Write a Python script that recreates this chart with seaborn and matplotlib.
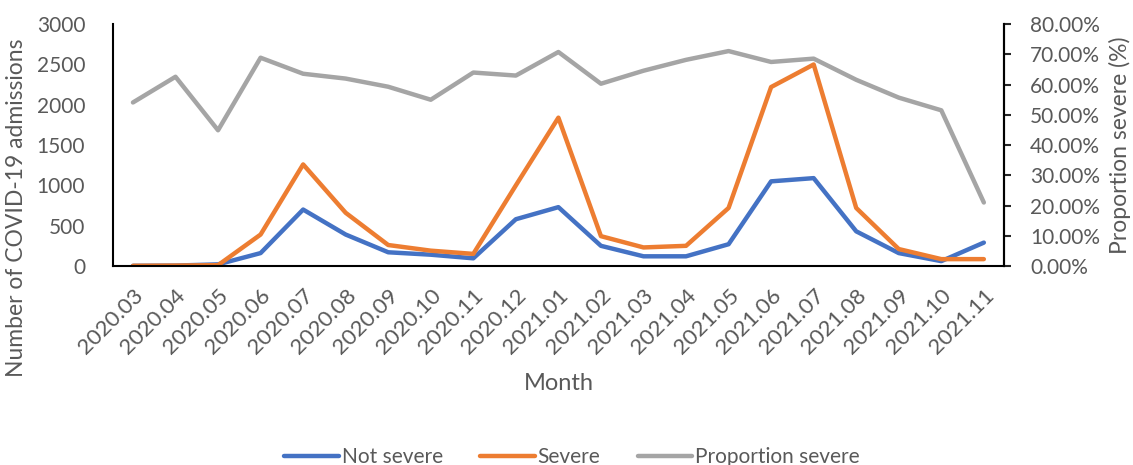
import pandas as pd
import matplotlib.pyplot as plt
import seaborn as sns
from matplotlib.ticker import PercentFormatter

months = ['2020.03', '2020.04', '2020.05', '2020.06', '2020.07', '2020.08', '2020.09',
          '2020.10', '2020.11', '2020.12', '2021.01', '2021.02', '2021.03', '2021.04',
          '2021.05', '2021.06', '2021.07', '2021.08', '2021.09', '2021.10', '2021.11']
not_severe = [2, 5, 20, 160, 700, 390, 170, 140, 95, 580, 730, 250, 120, 120,
              270, 1050, 1090, 430, 160, 60, 290]
severe = [2, 5, 10, 390, 1260, 660, 260, 190, 150, 1000, 1840, 370, 230, 250,
          720, 2220, 2500, 720, 210, 85, 85]
prop_severe = [54.1, 62.6, 44.9, 68.9, 63.6, 62.0, 59.3, 55.0, 64.0, 63.0, 70.8,
               60.3, 64.6, 68.2, 71.1, 67.5, 68.6, 61.6, 55.7, 51.5, 21.0]

df = pd.DataFrame({'Month': months, 'Not severe': not_severe, 'Severe': severe,
                   'Proportion severe': prop_severe})

sns.set_style('white')
plt.rcParams['font.family'] = ['Lato', 'DejaVu Sans']
txt = '#595959'

fig, ax = plt.subplots(figsize=(11.33, 4.65), dpi=100)
fig.subplots_adjust(left=0.0997, right=0.886, top=0.948, bottom=0.428)
ax2 = ax.twinx()

sns.lineplot(data=df, x='Month', y='Not severe', ax=ax, color='#4472C4', lw=3.2,
             label='Not severe', legend=False)
sns.lineplot(data=df, x='Month', y='Severe', ax=ax, color='#ED7D31', lw=3.2,
             label='Severe', legend=False)
sns.lineplot(data=df, x='Month', y='Proportion severe', ax=ax2, color='#A5A5A5', lw=3.2,
             label='Proportion severe', legend=False)

ax.set_xlim(-0.47, len(months) - 0.53)
ax.set_ylim(0, 3000)
ax.set_yticks(range(0, 3001, 500))
ax2.set_ylim(0, 80)
ax2.set_yticks(range(0, 81, 10))
ax2.yaxis.set_major_formatter(PercentFormatter(100, decimals=2))

for a in (ax, ax2):
    for s in a.spines.values():
        s.set_color('black')
        s.set_linewidth(1.5)
    a.spines['top'].set_visible(False)
ax2.spines['left'].set_visible(False)
ax2.spines['bottom'].set_visible(False)

ax.tick_params(axis='y', length=0, labelsize=15, labelcolor=txt, pad=20)
ax.tick_params(axis='x', length=0, labelsize=16, labelcolor=txt, pad=14)
ax2.tick_params(axis='y', length=5, width=1.5, direction='out', labelsize=15,
                labelcolor=txt, pad=14)
plt.setp(ax.get_xticklabels(), rotation=45, ha='right', rotation_mode='anchor')

ax.set_xlabel('Month', fontsize=17, color=txt, labelpad=11)
ax.set_ylabel('Number of COVID-19 admissions', fontsize=16.5, color=txt)
ax.yaxis.set_label_coords(-0.097, 0.24)
ax2.set_ylabel('Proportion severe (%)', fontsize=16.5, color=txt, labelpad=6)

h1, l1 = ax.get_legend_handles_labels()
h2, l2 = ax2.get_legend_handles_labels()
fig.legend(h1 + h2, l1 + l2, loc='lower center', bbox_to_anchor=(0.505, -0.045),
           ncol=3, frameon=False, fontsize=15, handlelength=2.6, handletextpad=0.15,
           columnspacing=1.8, labelcolor=txt)

plt.savefig('out.png', dpi=100)
